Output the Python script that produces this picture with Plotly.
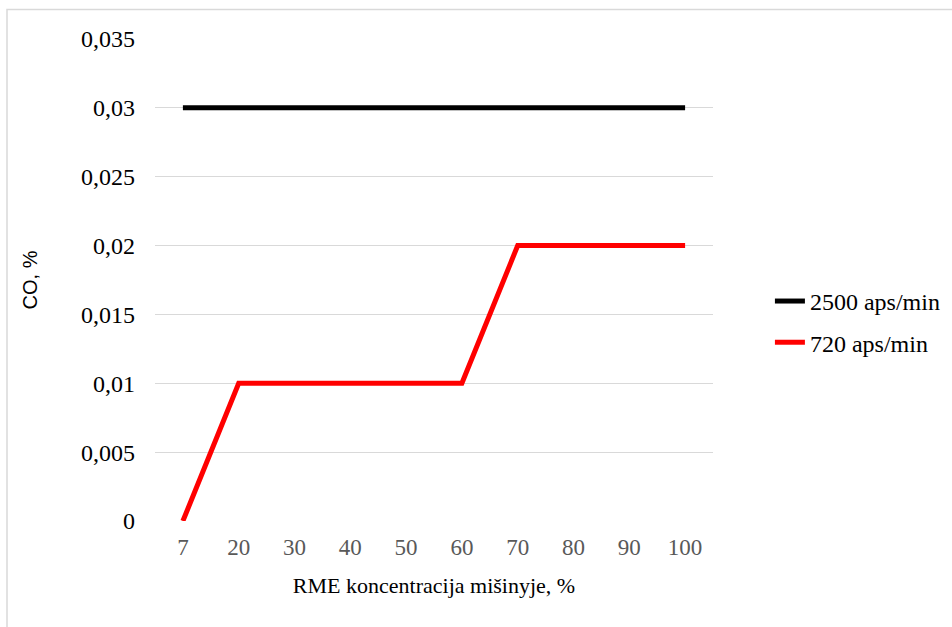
import plotly.graph_objects as go

# RME concentration in the blend, % (category axis)
concentration = ["7", "20", "30", "40", "50", "60", "70", "80", "90", "100"]
# CO emission, %
co_2500 = [0.03, 0.03, 0.03, 0.03, 0.03, 0.03, 0.03, 0.03, 0.03, 0.03]
co_720 = [0.0, 0.01, 0.01, 0.01, 0.01, 0.01, 0.02, 0.02, 0.02, 0.02]
y_ticks = [0, 0.005, 0.01, 0.015, 0.02, 0.025, 0.03, 0.035]
y_tick_text = ["0", "0,005", "0,01", "0,015", "0,02", "0,025", "0,03", "0,035"]

SERIF = "Liberation Serif"
SANS = "Liberation Sans"

fig = go.Figure()
fig.add_trace(go.Scatter(
    x=concentration, y=co_2500, mode="lines", name="2500 aps/min",
    line=dict(color="#000000", width=5), legendgroup="a",
))
fig.add_trace(go.Scatter(
    x=concentration, y=co_720, mode="lines", name="720 aps/min",
    line=dict(color="#ff0000", width=5), legendgroup="b",
))

fig.update_layout(
    width=952, height=627,
    margin=dict(l=155, r=239, t=39, b=106, autoexpand=False),
    paper_bgcolor="white", plot_bgcolor="white",
    font=dict(family=SERIF),
    showlegend=True,
    legend=dict(
        x=1.102, xanchor="left", y=0.413, yanchor="middle",
        font=dict(family=SERIF, size=24, color="#000000"),
        tracegroupgap=7, bgcolor="rgba(0,0,0,0)",
    ),
    xaxis=dict(
        type="category", range=[-0.5, 9.5],
        showgrid=False, showline=False, zeroline=False, ticks="",
        tickfont=dict(family=SERIF, size=23, color="#595959"),
        ticklabelstandoff=10,
        title=dict(text="RME koncentracija mišinyje, %",
                   font=dict(family=SERIF, size=22, color="#000000"), standoff=18),
    ),
    yaxis=dict(
        range=[0, 0.035], tickvals=y_ticks, ticktext=y_tick_text,
        showgrid=True, gridcolor="#d9d9d9", gridwidth=1.3,
        zeroline=False, showline=False, ticks="",
        tickfont=dict(family=SERIF, size=24, color="#000000"),
        ticklabelstandoff=19,
        title=dict(text="CO, %", font=dict(family=SANS, size=20, color="#000000"),
                   standoff=38),
    ),
    shapes=[dict(type="rect", xref="paper", yref="paper",
                 x0=-148 / 558, x1=(952 - 155 + 20) / 558,
                 y0=-(627 - 521 + 20) / 482, y1=1 + 29.5 / 482,
                 line=dict(color="#d9d9d9", width=1.5), layer="below")],
)

fig.write_html("out.html")
